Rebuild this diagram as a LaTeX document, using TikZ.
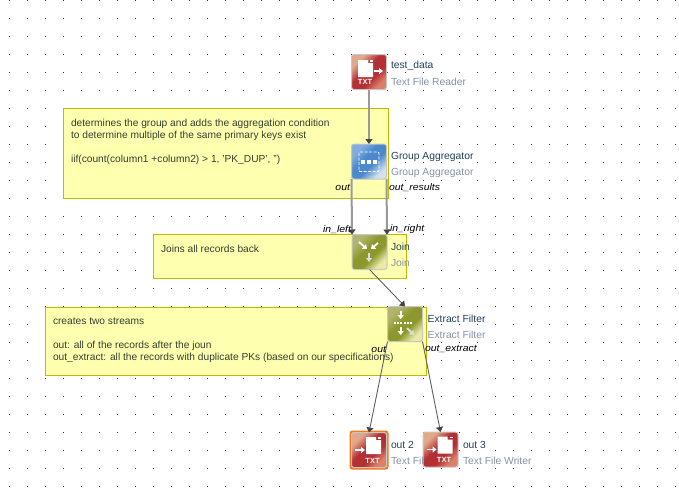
\documentclass[tikz,border=0pt]{standalone}
\usepackage{fontspec}
\setmainfont{Liberation Sans}
\newfontfamily\portfont[FakeStretch=1.1]{Liberation Sans}
\usetikzlibrary{arrows.meta}
\definecolor{notefill}{HTML}{FFFFB0}
\definecolor{noteline}{HTML}{BDBD00}
\definecolor{namecol}{HTML}{24405E}
\definecolor{typecol}{HTML}{8792A6}
\definecolor{notetext}{HTML}{33402F}
\definecolor{linegray}{HTML}{9A9A9A}
\definecolor{thinline}{HTML}{606060}
\definecolor{tipcol}{HTML}{444444}
\definecolor{selcol}{HTML}{F07820}
\definecolor{redA}{HTML}{E2A88A}
\definecolor{redB}{HTML}{B53035}
\definecolor{redC}{HTML}{DC8068}
\definecolor{blueA}{HTML}{7FAEDF}
\definecolor{blueB}{HTML}{4C88CE}
\definecolor{blueC}{HTML}{D2E2EC}
\definecolor{greenA}{HTML}{B0B46C}
\definecolor{greenB}{HTML}{8C982C}
\definecolor{greenC}{HTML}{EAEAA8}
\definecolor{paleglyph}{HTML}{D8DCE0}
\pgfdeclareverticalshading{redshade}{100bp}{color(0bp)=(redC); color(27bp)=(redC); color(40bp)=(redB); color(56bp)=(redB); color(72bp)=(redA); color(100bp)=(redA)}
\pgfdeclareverticalshading{blueshade}{100bp}{color(0bp)=(blueC); color(27bp)=(blueC); color(44bp)=(blueB); color(58bp)=(blueB); color(72bp)=(blueA); color(100bp)=(blueA)}
\pgfdeclareverticalshading{greenshade}{100bp}{color(0bp)=(greenC); color(27bp)=(greenC); color(42bp)=(greenB); color(56bp)=(greenB); color(72bp)=(greenA); color(100bp)=(greenA)}
\tikzset{
  x=1pt,y=-1pt,
  every node/.style={outer sep=0pt,inner sep=0pt},
  notebox/.style={draw=noteline,fill=notefill,line width=1pt,anchor=north west},
  notetxt/.style={anchor=north west,align=left,text=notetext,font=\fontsize{10.2}{12}\selectfont},
  iconbox/.style={minimum width=35pt,minimum height=35pt,rounded corners=2.5pt,draw=black!22,line width=1pt},
  redicon/.style={iconbox,shading=redshade,shading angle=45},
  blueicon/.style={iconbox,shading=blueshade,shading angle=45},
  greenicon/.style={iconbox,shading=greenshade,shading angle=45},
  nametxt/.style={anchor=west,text=namecol,font=\fontsize{10.3}{12}\selectfont},
  kindtxt/.style={anchor=west,text=typecol,font=\fontsize{10.3}{12}\selectfont},
  porttxt/.style={font=\fontsize{9.5}{11}\portfont\itshape,text=black},
  thickflow/.style={draw=linegray,line width=2pt,-{Triangle[length=5pt,width=7pt,color=tipcol]}},
  thinflow/.style={draw=thinline,line width=0.9pt,-{Triangle[length=5pt,width=7pt,color=tipcol]}},
  glyph/.style={draw=white,line width=1.8pt,-{Triangle[length=4pt,width=6pt]}},
  glyphpale/.style={draw=paleglyph,line width=1.8pt,-{Triangle[length=4pt,width=6pt]}},
  txtmark/.style={text=white,font=\fontsize{7.5}{8}\selectfont\bfseries}
}
\newcommand{\docshape}[2]{% left x, top y, relative to the scope
  \fill[white] (#1,#2) -- ++(10,0) -- ++(0,3) -- ++(5,0) -- ++(0,14) -- ++(-15,0) -- cycle;
  \fill[white] (#1+12,#2) rectangle ++(3,1.5);
}
\begin{document}
\begin{tikzpicture}
\useasboundingbox (0,0) rectangle (679,488);
\fill[white] (0,0) rectangle (679,488);
% dot grid
\foreach \i in {0,...,37}{\foreach \j in {0,...,27}{
  \fill[black!80] (9.5+18*\i-0.5,18*\j) rectangle ++(1,1);
}}
% notes
\node[notebox,minimum width=325pt,minimum height=90pt] (n1) at (63,108) {};
\node[notebox,minimum width=253pt,minimum height=44pt] (n2) at (153,234.5) {};
\node[notebox,minimum width=381pt,minimum height=68pt] (n3) at (45.5,307) {};
\node[notetxt] (t1) at (71,119.5) {determines the group and adds the aggregation condition\\to determine multiple of the same primary keys exist\\[12pt]iif(count(column1 +column2) > 1, 'PK\_DUP', '')};
\node[notetxt] (t2) at (161,245) {Joins all records back};
\node[notetxt] (t3) at (53,317.5) {creates two streams\\[12pt]out: all of the records after the joun\\out\_extract: all the records with duplicate PKs (based on our specifications)};
% selection frame behind out 2
\node[draw=selcol,line width=2pt,rounded corners=2pt,minimum width=37pt,minimum height=37pt] (sel) at (369,450) {};
% icons
\node[redicon] (reader) at (369,72) {};
\node[blueicon] (agg) at (369,161.5) {};
\node[greenicon] (join) at (369.5,252) {};
\node[greenicon] (ext) at (405,324) {};
\node[redicon] (o2) at (369,450) {};
\node[redicon] (o3) at (440.5,449.5) {};
% connectors
\draw[thickflow] (reader.south) -- (agg.north);
\draw[thickflow] (agg.south west) -- (join.north west);
\draw[thickflow] (agg.south east) -- (join.north east);
\draw[thinflow] (join.south) -- (ext.north);
\draw[thinflow] (ext.south west) -- (o2.north);
\draw[thinflow] (ext.south east) -- (o3.north);
% glyphs: reader
\begin{scope}[shift={(reader.center)}]
  \docshape{-11}{-12}
  \draw[glyph] (5,-1) -- (14,-1);
  \node[txtmark] (rt) at (-4,10) {TXT};
\end{scope}
% glyphs: aggregator
\begin{scope}[shift={(agg.center)}]
  \draw[white,line width=0.9pt,dash pattern=on 3pt off 1.5pt,rounded corners=1pt] (-10,-9.5) rectangle (10,10);
  \foreach \q in {-6,0,6}{\fill[white] (\q-2,-1.5) rectangle ++(4,4);}
\end{scope}
% glyphs: join
\begin{scope}[shift={(join.center)}]
  \draw[glyph] (-10.5,-10) -- (-2.5,-3);
  \draw[glyph] (8.5,-9) -- (1.5,-3);
  \draw[glyphpale] (-0.5,1) -- (-0.5,10);
\end{scope}
% glyphs: extract
\begin{scope}[shift={(ext.center)}]
  \draw[glyph] (-4.3,-13) -- (-4.3,-5);
  \draw[white,line width=1.8pt,dash pattern=on 2pt off 1.2pt] (-11,-0.7) -- (8,-0.7);
  \draw[glyph] (-4.3,3) -- (-4.3,11);
  \draw[glyphpale] (2,4) -- (9,11);
\end{scope}
% glyphs: writers
\foreach \w/\wt in {o2/a,o3/b}{
\begin{scope}[shift={(\w.center)}]
  \docshape{-3}{-13}
  \draw[glyph] (-14,0) -- (-4,0);
  \node[txtmark] (wt\wt) at (3.5,10.5) {TXT};
\end{scope}
}
% labels
\node[nametxt] (l1) at (391,66) {test\_data};
\node[kindtxt] (k1) at (391,82) {Text File Reader};
\node[nametxt] (l2) at (391,156.5) {Group Aggregator};
\node[kindtxt] (k2) at (391,172.5) {Group Aggregator};
\node[nametxt] (l3) at (391,246.5) {Join};
\node[kindtxt] (k3) at (391,262.5) {Join};
\node[nametxt] (l4) at (427.7,318.5) {Extract Filter};
\node[kindtxt] (k4) at (427.7,334.5) {Extract Filter};
\node[nametxt] (l5) at (391,444.5) {out 2};
\node[kindtxt] (k5) at (391,460.5) {Text Fil};
\node[nametxt] (l6) at (463,444.5) {out 3};
\node[kindtxt] (k6) at (463,460.5) {Text File Writer};
% ports
\node[porttxt,anchor=east] (p1) at (350,187.5) {out};
\node[porttxt,anchor=west] (p2) at (389,187.5) {out\_results};
\node[porttxt,anchor=east] (p3) at (351,229.5) {in\_left};
\node[porttxt,anchor=west] (p4) at (390,229.5) {in\_right};
\node[porttxt,anchor=east] (p5) at (386,349) {out};
\node[porttxt,anchor=west] (p6) at (425,349) {out\_extract};
\end{tikzpicture}
\end{document}
